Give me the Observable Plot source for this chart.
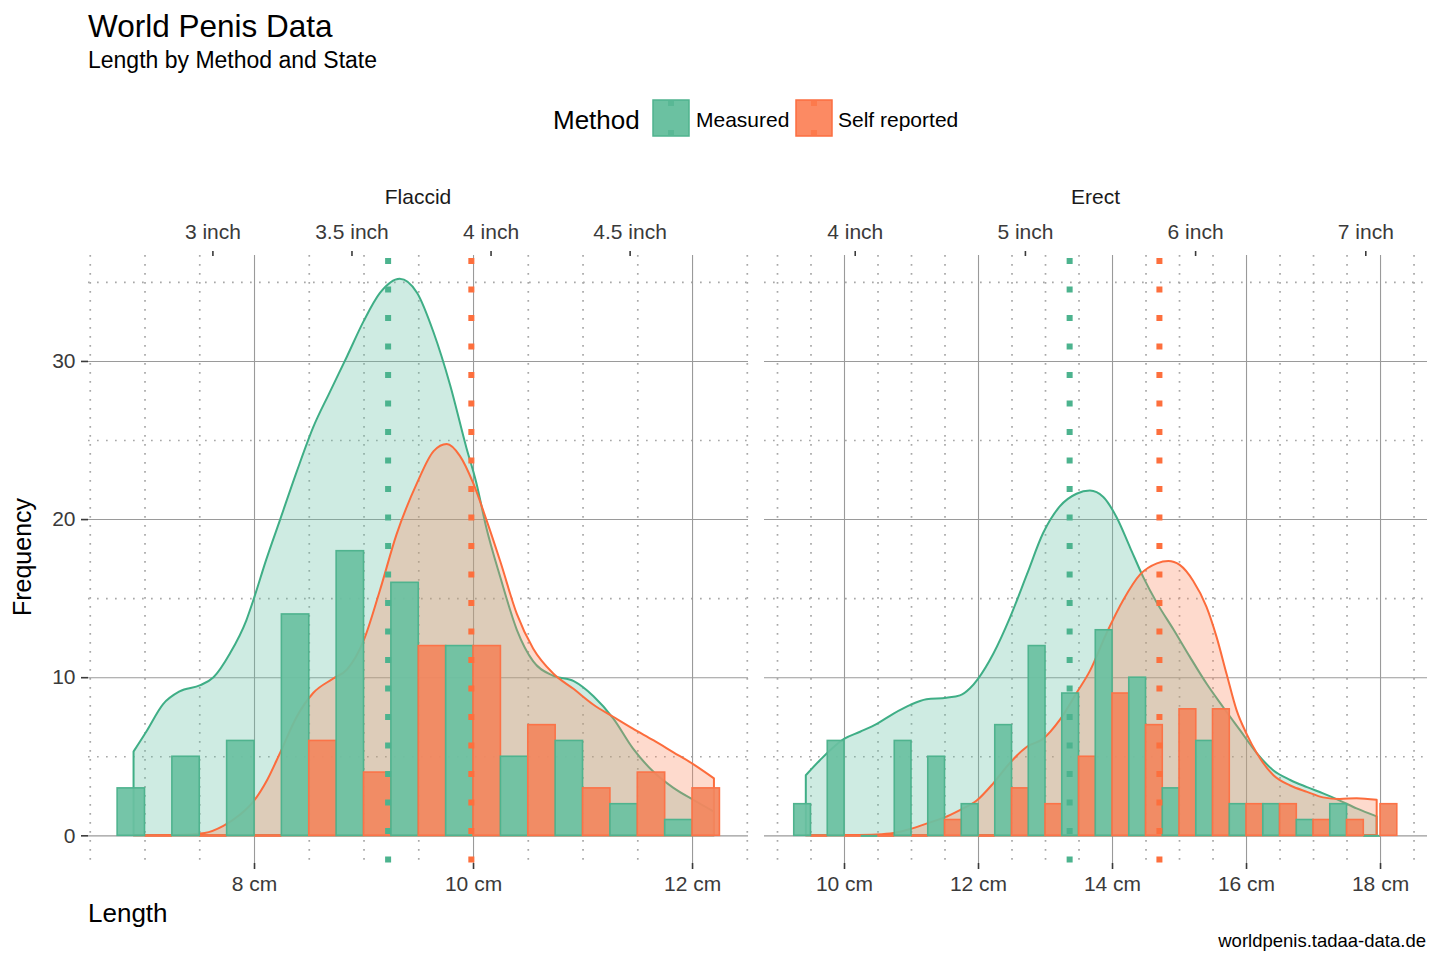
<!DOCTYPE html>
<html><head><meta charset="utf-8">
<script src="https://cdn.jsdelivr.net/npm/d3@7"></script>
<script src="https://cdn.jsdelivr.net/npm/@observablehq/plot@0.6"></script>
<style>
body{margin:0;background:#fff;}
#root{position:relative;width:1440px;height:960px;overflow:hidden;background:#fff;font-family:"Liberation Sans",Arial,sans-serif;}
#root > svg, #root > div{position:absolute;}
</style></head><body><div id="root"></div>
<script>
// ---------- data ----------
const methods = ["Measured", "Self reported"];
const facets = ["Flaccid", "Erect"];

// histogram bins (bin centre, cm) and counts
const flaccidBins = [7.0, 7.5, 8.0, 8.5, 9.0, 9.5, 10.0, 10.5, 11.0, 11.5, 12.0];
const flaccidMeasured = [3, 5, 6, 14, 18, 16, 12, 5, 6, 2, 1];
const flaccidSelf = [0, 0, 0, 6, 4, 12, 12, 7, 3, 4, 3];

const erectBins = [9.5, 10.0, 10.5, 11.0, 11.5, 12.0, 12.5, 13.0, 13.5, 14.0, 14.5, 15.0, 15.5, 16.0, 16.5, 17.0, 17.5, 18.0];
const erectMeasured = [2, 6, 0, 6, 5, 2, 7, 12, 9, 13, 10, 3, 6, 2, 2, 1, 2, 0];
const erectSelf = [0, 0, 0, 0, 1, 0, 3, 2, 5, 9, 7, 8, 8, 2, 2, 1, 1, 2];

// density curves scaled to counts: [cm, frequency]
const flaccidMeasuredDensity = [[6.90,5.3],[7.02,6.6],[7.17,8.3],[7.32,9.1],[7.51,9.5],[7.63,10.0],[7.78,11.5],[7.93,13.6],[8.00,15.0],[8.11,17.4],[8.24,20.0],[8.39,23.0],[8.54,25.8],[8.69,28.0],[8.85,30.3],[9.00,32.5],[9.15,34.3],[9.33,35.2],[9.49,34.3],[9.64,31.8],[9.79,28.5],[9.94,24.5],[10.03,22.3],[10.12,19.5],[10.25,16.3],[10.40,13.0],[10.55,11.0],[10.73,10.1],[10.92,9.75],[11.10,8.8],[11.28,7.4],[11.46,5.5],[11.65,4.0],[11.83,3.0],[12.01,2.25],[12.20,1.5]];
const flaccidSelfDensity = [[6.90,0],[7.30,0.02],[7.55,0.15],[7.72,0.6],[7.87,1.3],[7.99,2.1],[8.12,3.5],[8.24,5.25],[8.39,7.5],[8.54,9.0],[8.72,9.9],[8.85,10.5],[9.00,12.3],[9.15,15.5],[9.30,19.0],[9.49,22.3],[9.64,24.3],[9.76,24.75],[9.88,24.0],[10.00,22.3],[10.12,20.0],[10.25,17.3],[10.40,14.0],[10.55,11.8],[10.73,10.25],[10.92,9.25],[11.10,8.26],[11.28,7.5],[11.46,6.75],[11.65,6.0],[11.83,5.25],[12.01,4.5],[12.20,3.6]];
const erectMeasuredDensity = [[9.43,3.8],[9.64,4.75],[10.00,6.1],[10.24,6.55],[10.49,7.05],[10.74,7.7],[10.99,8.25],[11.23,8.6],[11.53,8.7],[11.73,8.85],[11.88,9.3],[12.00,9.9],[12.23,11.5],[12.48,13.8],[12.73,16.5],[12.97,19.1],[13.22,20.8],[13.47,21.6],[13.67,21.8],[13.87,21.4],[14.07,20.1],[14.27,18.2],[14.47,16.3],[14.67,14.7],[14.92,13.0],[15.16,11.3],[15.41,9.6],[15.66,8.1],[15.91,6.65],[16.16,5.2],[16.41,4.1],[16.66,3.5],[16.91,3.05],[17.15,2.65],[17.40,2.2],[17.65,1.7],[17.95,1.2]];
const erectSelfDensity = [[9.43,0],[10.00,0.02],[10.49,0.06],[10.74,0.15],[10.99,0.4],[11.23,0.74],[11.48,1.1],[11.73,1.6],[11.98,2.2],[12.23,3.3],[12.48,4.6],[12.73,5.6],[12.97,6.1],[13.22,7.3],[13.47,9.0],[13.67,10.4],[13.92,12.8],[14.17,14.9],[14.42,16.5],[14.67,17.2],[14.84,17.35],[15.01,17.1],[15.21,16.1],[15.41,14.45],[15.56,12.55],[15.71,10.2],[15.86,7.9],[16.01,6.4],[16.16,5.2],[16.41,3.8],[16.66,3.15],[16.91,2.75],[17.15,2.4],[17.40,2.3],[17.65,2.35],[17.95,2.25]];

// group means (cm)
const flaccidMeans = [9.22, 9.98];
const erectMeans = [13.36, 14.70];

// axes
const flaccidCmTicks = [8, 10, 12];
const flaccidInchTicks = [3, 3.5, 4, 4.5];
const flaccidMinor = [6.5, 7, 7.5, 8.5, 9, 9.5, 10.5, 11, 11.5, 12.5];
const erectCmTicks = [10, 12, 14, 16, 18];
const erectInchTicks = [4, 5, 6, 7];
const erectMinor = [9, 9.5, 10.5, 11, 11.5, 12.5, 13, 13.5, 14.5, 15, 15.5, 16.5, 17, 17.5, 18.5];
const yTicks = [0, 10, 20, 30];
const yMinor = [5, 15, 25, 35];

// ---------- style ----------
const C = {
  mFill: "#66c2a5", sFill: "#fc8d62",
  mLine: "#3fae86", sLine: "#fc6c3c",
  mBar: "#6bc1a1", sBar: "#f2875f",
  mBarLine: "#4fb38e", sBarLine: "#fb7348",
  mMean: "#4cb38e", sMean: "#fd6f3d",
  text: "#3a3a3a"
};
const PLOT_TOP = 175, PLOT_H = 760, M_TOP = 80, M_BOTTOM = 72;
const Y_DOMAIN = [-1.75, 36.7];

function panel(cfg) {
  const bars = [];
  cfg.bins.forEach((b, i) => {
    bars.push({x1: b - 0.25, x2: b, n: cfg.meas[i], m: methods[0]});
    bars.push({x1: b, x2: b + 0.25, n: cfg.self[i], m: methods[1]});
  });
  const nz = bars.filter(d => d.n > 0), zero = bars.filter(d => d.n === 0);
  const dens = (arr) => arr.map(([x, v]) => ({x, v}));
  const means = cfg.means.map((x, i) => ({x, m: methods[i]}));
  const marks = [
    Plot.ruleX(cfg.minor, {stroke: "#a8a8a8", strokeWidth: 1.7, strokeDasharray: "1.7,7.3"}),
    Plot.ruleY(yMinor, {stroke: "#a8a8a8", strokeWidth: 1.7, strokeDasharray: "1.7,7.3"}),
    Plot.ruleX(cfg.cm, {stroke: "#9a9a9a", strokeWidth: 1.1}),
    Plot.ruleY(yTicks, {stroke: "#9a9a9a", strokeWidth: 1.1}),
    Plot.areaY(dens(cfg.mDens), {x: "x", y: "v", curve: "monotone-x", fill: C.mFill, fillOpacity: 0.32, stroke: C.mLine, strokeWidth: 2}),
    Plot.areaY(dens(cfg.sDens), {x: "x", y: "v", curve: "monotone-x", fill: C.sFill, fillOpacity: 0.32, stroke: C.sLine, strokeWidth: 2}),
    Plot.ruleY(zero, {y: 0, x1: "x1", x2: "x2", stroke: d => d.m === methods[0] ? C.mBarLine : C.sBarLine, strokeWidth: 2}),
    Plot.rectY(nz, {x1: "x1", x2: "x2", y1: 0, y2: "n", fill: d => d.m === methods[0] ? C.mBar : C.sBar, fillOpacity: 0.93, stroke: d => d.m === methods[0] ? C.mBarLine : C.sBarLine, strokeWidth: 1.6}),
    Plot.ruleX(means, {x: "x", stroke: d => d.m === methods[0] ? C.mMean : C.sMean, strokeWidth: 6, strokeDasharray: "6,22.5", strokeDashoffset: -3}),
    Plot.axisX({anchor: "bottom", ticks: cfg.cm, tickFormat: d => `${d} cm`, tickSize: 6, tickPadding: 7, fontSize: 21, label: null, strokeWidth: 1.6}),
    Plot.axisX({anchor: "top", ticks: cfg.inch.map(v => v * 2.54), tickFormat: d => `${Math.round(d / 2.54 * 10) / 10} inch`, tickSize: 5, tickPadding: 12, fontSize: 21, label: null, strokeWidth: 1.6})
  ];
  if (cfg.yAxis) marks.push(Plot.axisY({ticks: yTicks, tickSize: 7, tickPadding: 6, fontSize: 21, label: null, strokeWidth: 1.6}));
  const svg = Plot.plot({
    width: cfg.width, height: PLOT_H,
    marginLeft: cfg.ml, marginRight: cfg.mr, marginTop: M_TOP, marginBottom: M_BOTTOM,
    x: {domain: cfg.domain, axis: null},
    y: {domain: Y_DOMAIN, axis: null},
    style: {fontFamily: "Liberation Sans, Arial, sans-serif", color: C.text, background: "transparent", overflow: "visible"},
    marks
  });
  svg.style.left = cfg.left + "px";
  svg.style.top = PLOT_TOP + "px";
  return svg;
}

const root = document.getElementById("root");

// overlay text layer
const ov = d3.select(root).append("svg").attr("width", 1440).attr("height", 960)
  .style("left", "0px").style("top", "0px")
  .style("font-family", "Liberation Sans, Arial, sans-serif");
const T = (s, x, y, size, opts = {}) => ov.append("text").text(s).attr("x", x).attr("y", y)
  .attr("font-size", size).attr("fill", opts.fill || "#000").attr("text-anchor", opts.anchor || "start")
  .attr("transform", opts.rotate ? `rotate(${opts.rotate},${x},${y})` : null);

T("World Penis Data", 88, 37, 31.5);
T("Length by Method and State", 88, 68, 23);
T("Method", 553, 129, 26);
[[653, C.mBar, C.mBarLine, C.mMean, methods[0], 696], [796, "#fc8a63", "#fb6e40", C.sMean, methods[1], 838]].forEach(([x, f, s, mc, lab, lx]) => {
  ov.append("rect").attr("x", x).attr("y", 100).attr("width", 36).attr("height", 36).attr("fill", f).attr("stroke", s).attr("stroke-width", 1.5);
  ov.append("rect").attr("x", x + 15).attr("y", 101).attr("width", 6).attr("height", 5).attr("fill", mc).attr("opacity", 0.6);
  ov.append("rect").attr("x", x + 15).attr("y", 130).attr("width", 6).attr("height", 5).attr("fill", mc).attr("opacity", 0.6);
  T(lab, lx, 127, 21);
});
T(facets[0], 418, 204, 21, {anchor: "middle", fill: "#1a1a1a"});
T(facets[1], 1095.5, 204, 21, {anchor: "middle", fill: "#1a1a1a"});
T("Length", 88, 922, 26);
T("Frequency", 31, 557, 25, {anchor: "middle", rotate: -90});
T("worldpenis.tadaa-data.de", 1426, 947, 18.5, {anchor: "end"});

root.appendChild(panel({
  left: 0, width: 756, ml: 88, mr: 8, domain: [6.484, 12.511], yAxis: true,
  bins: flaccidBins, meas: flaccidMeasured, self: flaccidSelf,
  mDens: flaccidMeasuredDensity, sDens: flaccidSelfDensity, means: flaccidMeans,
  cm: flaccidCmTicks, inch: flaccidInchTicks, minor: flaccidMinor
}));
root.appendChild(panel({
  left: 756, width: 684, ml: 8, mr: 13, domain: [8.806, 18.701], yAxis: false,
  bins: erectBins, meas: erectMeasured, self: erectSelf,
  mDens: erectMeasuredDensity, sDens: erectSelfDensity, means: erectMeans,
  cm: erectCmTicks, inch: erectInchTicks, minor: erectMinor
}));
</script></body></html>
